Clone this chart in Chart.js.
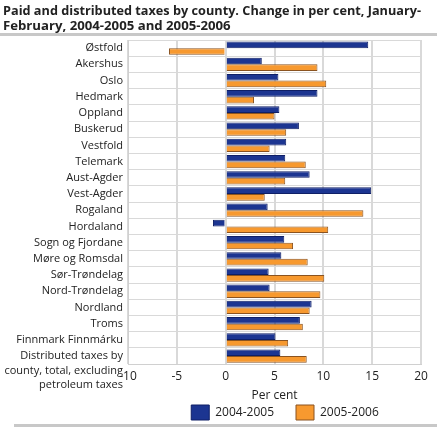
<!DOCTYPE html>
<html><head><meta charset="utf-8">
<script src="https://cdn.jsdelivr.net/npm/chart.js@4"></script>
<style>html,body{margin:0;padding:0;background:#fff;}#wrap{width:437px;height:427px;position:relative;}</style>
</head><body><div id="wrap"><canvas id="c"></canvas></div>
<script>
const categories = ["Østfold","Akershus","Oslo","Hedmark","Oppland","Buskerud","Vestfold","Telemark","Aust-Agder","Vest-Agder","Rogaland","Hordaland","Sogn og Fjordane","Møre og Romsdal","Sør-Trøndelag","Nord-Trøndelag","Nordland","Troms","Finnmark Finnmárku",["","","Distributed taxes by","county, total, excluding","petroleum taxes"]];
const series2004_2005 = [14.6,3.7,5.4,9.4,5.5,7.5,6.2,6.1,8.6,14.9,4.3,-1.3,6.0,5.7,4.4,4.5,8.8,7.6,5.1,5.6];
const series2005_2006 = [-5.8,9.4,10.3,2.9,5.0,6.2,4.5,8.2,6.1,4.0,14.1,10.5,6.9,8.4,10.1,9.7,8.6,7.9,6.4,8.3];
const xTicks = [-10,-5,0,5,10,15,20];
const titleLines = ["Paid and distributed taxes by county. Change in per cent, January-","February, 2004-2005 and 2005-2006"];

const FONT = "'Open Sans', sans-serif";
const layoutPlugin = {
  id:'layoutTweaks',
  beforeLayout(chart){
    const lg = chart.legend;
    if(lg && !lg._wrapped){
      const orig = lg.fit.bind(lg);
      lg.fit = function(){ orig(); this.height = 20; };
      lg._wrapped = true;
    }
  },
  afterLayout(chart){
    const lg = chart.legend;
    if(lg){
      const d = 285 - (lg.left+lg.right)/2;
      lg.left += d; lg.right += d;
      lg.top = 383; lg.bottom = 424;
    }
  },
  afterDraw(chart){
    const ctx = chart.ctx;
    ctx.save();
    ctx.fillStyle = '#c8c8c8';
    ctx.fillRect(0,33,437,3);
    ctx.fillRect(14,424,423,3);
    ctx.restore();
  }
};
new Chart(document.getElementById('c'),{
  type:'bar',
  data:{labels:categories,datasets:[
    {label:'2004-2005',data:series2004_2005,backgroundColor:'#1c3591',borderColor:'#0f1f66',borderWidth:1,categoryPercentage:0.82,barPercentage:1},
    {label:'2005-2006',data:series2005_2006,backgroundColor:'#f7992f',borderColor:'#8a5320',borderWidth:1,categoryPercentage:0.82,barPercentage:1}
  ]},
  options:{
    indexAxis:'y',responsive:true,maintainAspectRatio:false,animation:false,
    layout:{padding:{left:3,right:16,top:0,bottom:4}},
    plugins:{
      title:{display:true,text:titleLines,align:'start',color:'#222',font:{family:FONT,size:13.2,weight:'bold',lineHeight:1.1},padding:{top:4,bottom:7}},
      legend:{position:'bottom',labels:{boxWidth:18,boxHeight:15,color:'#222',font:{family:FONT,size:12},padding:22}},
      tooltip:{enabled:false}
    },
    scales:{
      x:{min:-10,max:20,afterBuildTicks(s){s.ticks=xTicks.map(v=>({value:v}));},
        grid:{color:'#d9d9d9',lineWidth:2,drawTicks:false},border:{display:true,color:'#d0d0d0'},
        ticks:{color:'#222',font:{family:FONT,size:12},padding:5,maxRotation:0},
        title:{display:true,text:'Per cent',color:'#222',font:{family:FONT,size:12},padding:{top:0,bottom:0}}},
      y:{grid:{color:'#d9d9d9',lineWidth:1,drawTicks:false,offset:true},border:{display:true,color:'#d0d0d0'},
        ticks:{color:'#222',font:{family:FONT,size:11,lineHeight:1.3},padding:5,autoSkip:false},
        afterFit(s){s.width=125;s.paddingTop=0;s.paddingBottom=0;}}
    }
  },
  plugins:[layoutPlugin]
});
</script></body></html>
